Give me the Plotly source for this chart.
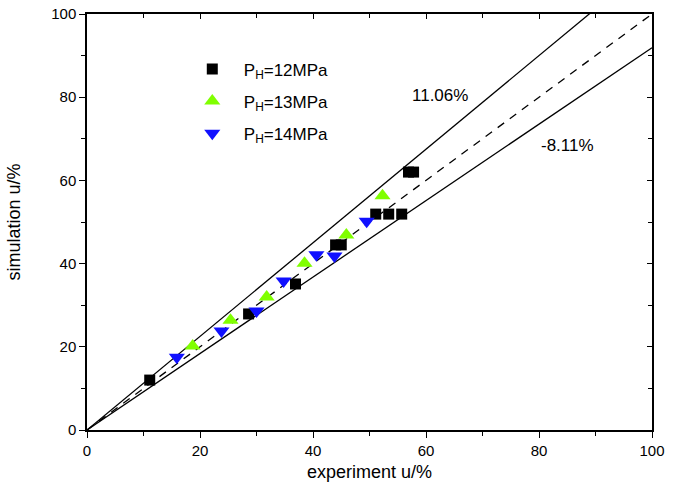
import plotly.graph_objects as go

# Data
x_12 = [11.1, 28.6, 36.9, 44.0, 45.0, 51.1, 53.4, 55.7, 56.9, 57.8]
y_12 = [12.0, 27.9, 35.1, 44.5, 44.5, 51.9, 51.9, 51.9, 62.0, 62.0]

x_13 = [18.7, 25.4, 31.8, 38.5, 45.9, 52.3]
y_13 = [20.2, 26.4, 32.0, 40.1, 46.9, 56.3]

x_14 = [15.9, 23.8, 30.0, 34.8, 40.6, 43.8, 49.5]
y_14 = [17.5, 23.8, 28.6, 35.8, 42.1, 41.8, 50.2]

line_x = [0, 100]
slope_upper = 1.125
slope_lower = 0.919
slope_equal = 1.0

label_upper = "11.06%"
label_lower = "-8.11%"

FONT = "Arial, Liberation Sans, sans-serif"

fig = go.Figure()

fig.add_trace(go.Scatter(x=line_x, y=[v * slope_upper for v in line_x], mode="lines",
                         line=dict(color="black", width=1.3), showlegend=False, hoverinfo="skip"))
fig.add_trace(go.Scatter(x=line_x, y=[v * slope_lower for v in line_x], mode="lines",
                         line=dict(color="black", width=1.3), showlegend=False, hoverinfo="skip"))
fig.add_trace(go.Scatter(x=line_x, y=[v * slope_equal for v in line_x], mode="lines",
                         line=dict(color="black", width=1.3, dash="8px,7px"), showlegend=False, hoverinfo="skip"))

fig.add_trace(go.Scatter(x=x_12, y=y_12, mode="markers", name="P<sub>H</sub>=12MPa",
                         legendgroup="g12",
                         marker=dict(symbol="square", size=11, color="black")))
fig.add_trace(go.Scatter(x=x_13, y=y_13, mode="markers", name="P<sub>H</sub>=13MPa",
                         legendgroup="g13",
                         marker=dict(symbol="triangle-up", size=14, color="#80ff00")))
fig.add_trace(go.Scatter(x=x_14, y=y_14, mode="markers", name="P<sub>H</sub>=14MPa",
                         legendgroup="g14",
                         marker=dict(symbol="triangle-down", size=14, color="#1010ff")))

# invisible trace to render mirrored axes with inward ticks
fig.add_trace(go.Scatter(x=[0], y=[0], xaxis="x2", yaxis="y2", mode="markers",
                         marker=dict(opacity=0), showlegend=False, hoverinfo="skip"))

axis_common = dict(range=[0, 100], showgrid=False, zeroline=False, showline=True,
                   linecolor="black", linewidth=1.5, tickcolor="black", tickwidth=1.3,
                   dtick=20, tick0=0, automargin=False)

fig.update_layout(
    width=682, height=492,
    margin=dict(l=87, r=30, t=14, b=62),
    paper_bgcolor="white", plot_bgcolor="white",
    font=dict(family=FONT, color="black", size=15),
    xaxis=dict(**axis_common, ticks="outside", ticklen=6,
               minor=dict(ticks="outside", ticklen=4, dtick=10, tickcolor="black", tickwidth=1.3),
               title=dict(text="experiment u/%", font=dict(size=18), standoff=8),
               tickfont=dict(size=15)),
    yaxis=dict(**axis_common, ticks="outside", ticklen=6,
               minor=dict(ticks="outside", ticklen=4, dtick=10, tickcolor="black", tickwidth=1.3),
               title=dict(text="simulation u/%", font=dict(size=18), standoff=26),
               tickfont=dict(size=15)),
    xaxis2=dict(**axis_common, overlaying="x", side="top", ticks="inside", ticklen=5,
                showticklabels=False,
                minor=dict(ticks="inside", ticklen=4, dtick=10, tickcolor="black", tickwidth=1.3)),
    yaxis2=dict(**axis_common, overlaying="y", side="right", ticks="inside", ticklen=5,
                showticklabels=False,
                minor=dict(ticks="inside", ticklen=4, dtick=10, tickcolor="black", tickwidth=1.3)),
    legend=dict(x=0.166, y=0.91, xanchor="left", yanchor="top", itemwidth=53,
                bgcolor="rgba(0,0,0,0)", font=dict(size=17), tracegroupgap=7),
    annotations=[
        dict(x=62.5, y=80.5, xref="x", yref="y", text=label_upper, showarrow=False,
             font=dict(size=17)),
        dict(x=85.1, y=68.3, xref="x", yref="y", text=label_lower, showarrow=False,
             font=dict(size=17)),
    ],
)

fig.write_html("out.html", config={"displayModeBar": False})

# remove the browser's default body margin so the figure sits at the page origin
with open("out.html", "r", encoding="utf-8") as f:
    html = f.read()
html = html.replace("<head>", "<head><style>html,body{margin:0;padding:0;}</style>", 1)
with open("out.html", "w", encoding="utf-8") as f:
    f.write(html)
